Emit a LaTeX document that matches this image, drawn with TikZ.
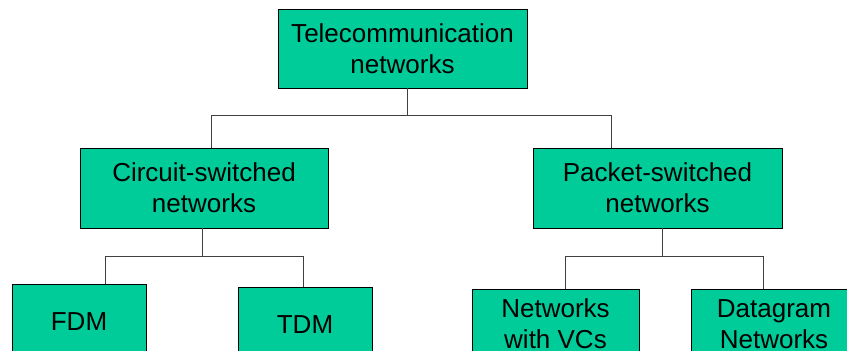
\documentclass[tikz,border=0pt]{standalone}
\usepackage{fontspec}
\setmainfont{Liberation Sans}
\definecolor{boxgreen}{RGB}{0,204,153}

\begin{document}
\begin{tikzpicture}
[x=1pt,y=-1pt,
every node/.style={draw=black,fill=boxgreen,align=center,inner sep=0pt,
  font=\fontsize{26}{31}\selectfont,line width=0.8pt},
link/.style={draw=black!75,line width=0.8pt},
]
\useasboundingbox (0,0) rectangle (847,351);
\clip (0,0) rectangle (847,351);

\node[minimum width=249,minimum height=79] (tele) at (402.5,48.5) {Telecommunication\\networks};
\node[minimum width=248,minimum height=80] (circ) at (204,188) {Circuit-switched\\networks};
\node[minimum width=249,minimum height=80] (pack) at (657.5,188) {Packet-switched\\networks};

\node[minimum width=134,minimum height=76] (fdm) at (79,322) {FDM};
\node[minimum width=134,minimum height=76] (tdm) at (305,325) {TDM};
\node[minimum width=167,minimum height=70] (vcs) at (555.5,324) {Networks\\with VCs};
\node[minimum width=166,minimum height=70] (dgram) at (774,324) {Datagram\\Networks};

% connectors
\draw[link] ([xshift=4.5]tele.south) -- ++(0,27) coordinate (j0);
\draw[link] ([xshift=7]circ.north) |- (j0) -| ([xshift=-46.5]pack.north);
\draw[link] ([xshift=-2]circ.south) -- ++(0,28) coordinate (j1);
\draw[link] ([xshift=26]fdm.north) |- (j1) -| ([xshift=-2]tdm.north);
\draw[link] ([xshift=4.5]pack.south) -- ++(0,28) coordinate (j2);
\draw[link] ([xshift=9.5]vcs.north) |- (j2) -| ([xshift=-11]dgram.north);
\end{tikzpicture}
\end{document}
